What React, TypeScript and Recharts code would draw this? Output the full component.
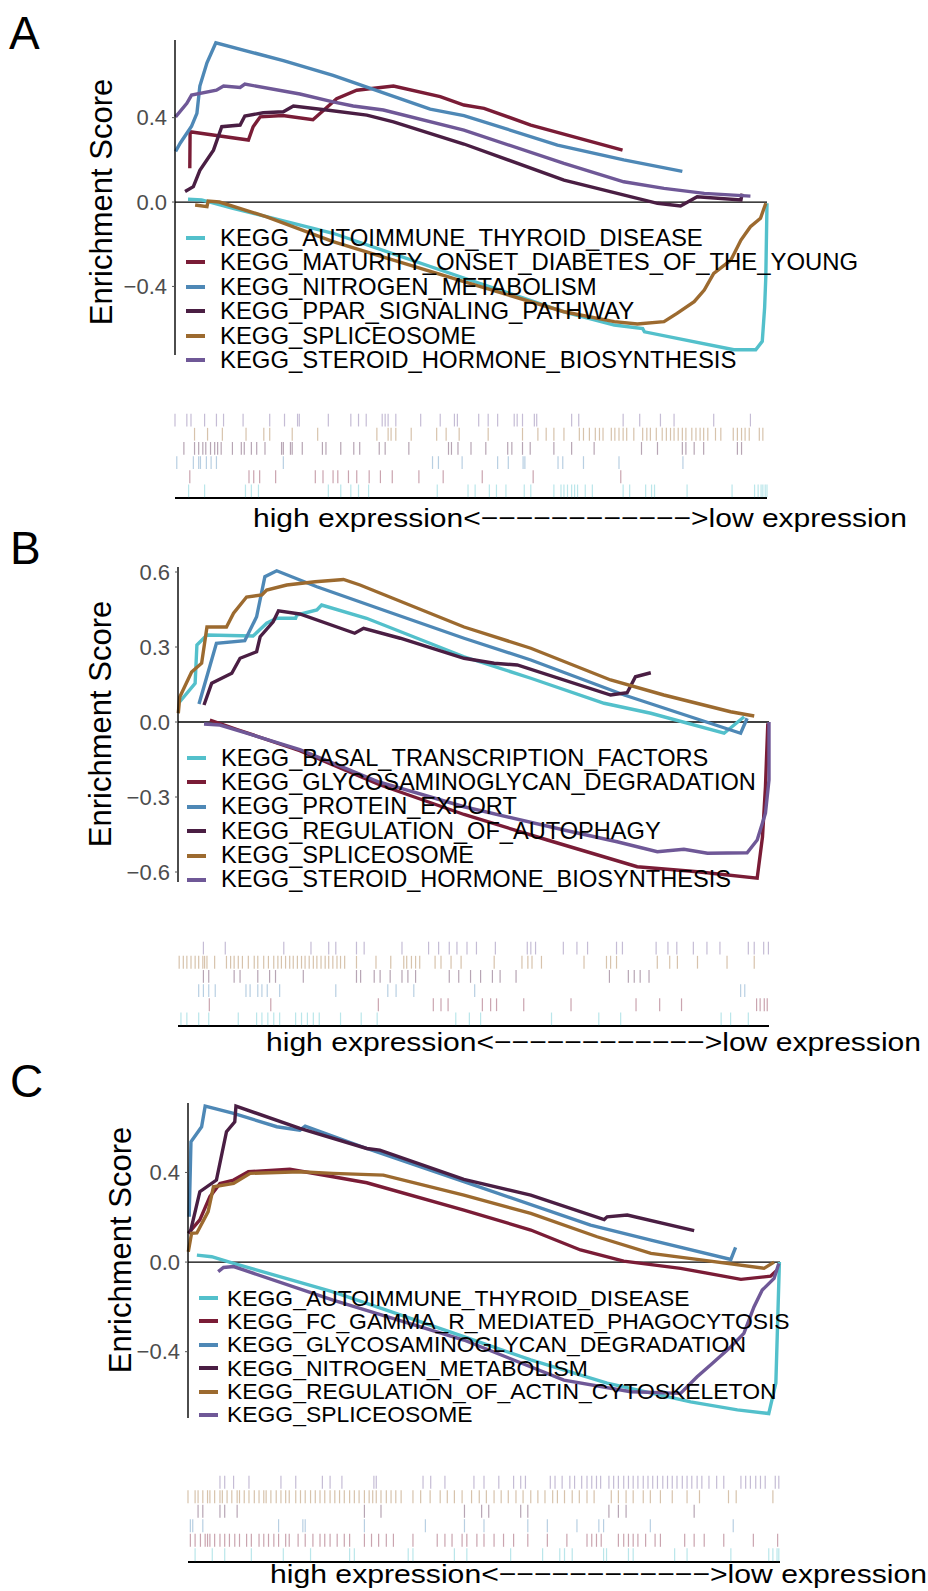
import React from "react";
import { LineChart, Line, XAxis, YAxis, ReferenceLine, ScatterChart, Scatter } from "recharts";

const FONT = '"Liberation Sans", Arial, Helvetica, sans-serif';
const PAGE_W = 928;

const CYAN = "#53C0CB";
const RED = "#7A1C36";
const BLUE = "#4E88B6";
const PLUM = "#4A1E43";
const BROWN = "#9C6A2F";
const PURPLE = "#6F5897";
const COLORS = [CYAN, RED, BLUE, PLUM, BROWN, PURPLE];

type Pt = [number, number];

// x = position in the ranked gene list (0-100), y = running enrichment score

// ---------- panel A ----------
const A_NAMES = [
  "KEGG_AUTOIMMUNE_THYROID_DISEASE",
  "KEGG_MATURITY_ONSET_DIABETES_OF_THE_YOUNG",
  "KEGG_NITROGEN_METABOLISM",
  "KEGG_PPAR_SIGNALING_PATHWAY",
  "KEGG_SPLICEOSOME",
  "KEGG_STEROID_HORMONE_BIOSYNTHESIS",
];
const A_ES_AUTOIMMUNE: Pt[] = [[2.2, 0.013], [4.5, 0.01], [9.8, -0.03], [26.7, -0.148], [48.8, -0.36], [65.7, -0.52], [74.2, -0.583], [79.0, -0.6], [79.3, -0.615], [94.4, -0.7], [98.1, -0.7], [99.2, -0.66], [99.6, -0.5], [99.8, -0.354], [100, -0.006]];
const A_ES_MATURITY: Pt[] = [[2.5, 0.16], [2.55, 0.333], [12.4, 0.294], [13.2, 0.357], [14.4, 0.404], [18.2, 0.41], [23.3, 0.39], [27.3, 0.49], [30.7, 0.53], [36.9, 0.55], [44.8, 0.5], [48.8, 0.46], [52.2, 0.444], [60.1, 0.365], [75.6, 0.246]];
const A_ES_NITROGEN: Pt[] = [[0.1, 0.24], [0.9, 0.28], [2.8, 0.36], [3.7, 0.42], [4.2, 0.55], [5.4, 0.66], [6.9, 0.755], [18.3, 0.67], [26.7, 0.6], [43.1, 0.44], [48.8, 0.41], [64.6, 0.27], [75.8, 0.2], [85.7, 0.145]];
const A_ES_PPAR: Pt[] = [[1.7, 0.05], [3.1, 0.073], [4.2, 0.15], [6.5, 0.246], [7.9, 0.357], [11.0, 0.365], [11.8, 0.408], [14.9, 0.423], [18.3, 0.428], [20.0, 0.455], [25.6, 0.436], [32.4, 0.412], [36.9, 0.38], [48.8, 0.275], [65.7, 0.104], [81.5, -0.006], [85.4, -0.019], [88.2, 0.025], [95.6, 0.01], [95.8, 0.04]];
const A_ES_SPLICEOSOME: Pt[] = [[3.4, -0.014], [5.4, -0.022], [5.6, 0.005], [7.5, 0.0], [15.5, -0.07], [26.7, -0.188], [48.8, -0.377], [65.7, -0.52], [74.2, -0.567], [78.1, -0.578], [82.6, -0.567], [84.8, -0.528], [87.7, -0.472], [89.4, -0.417], [91.0, -0.338], [93.9, -0.275], [95.6, -0.18], [97.2, -0.117], [98.9, -0.077], [99.8, -0.006]];
const A_ES_STEROID: Pt[] = [[0.1, 0.404], [2.0, 0.468], [2.8, 0.507], [7.0, 0.53], [8.2, 0.55], [11.0, 0.543], [11.8, 0.559], [21.1, 0.512], [26.7, 0.475], [30.1, 0.455], [35.2, 0.436], [48.8, 0.341], [65.7, 0.183], [75.8, 0.096], [82.6, 0.065], [89.4, 0.041], [97.2, 0.028]];

const A_HITS_AUTOIMMUNE = [2.3, 5, 11.9, 12.9, 14.1, 25.9, 28, 29.7, 31, 32.7, 44.3, 49.5, 50.7, 53.1, 54.3, 55.9, 59, 60.1, 64, 65.2, 65.7, 66.3, 67, 67.5, 68, 69.3, 70.5, 75.7, 76.8, 79.5, 80.5, 81, 86.5, 94.1, 97.9, 98.5, 99, 99.3, 99.7, 100];
const A_HITS_MATURITY = [2.5, 12.5, 13.3, 14.3, 17, 23.7, 25, 26.7, 27.5, 29.3, 30.7, 32.8, 34.7, 36.7, 41.2, 45.3, 51.9, 60.5, 75.3];
const A_HITS_NITROGEN = [0.3, 3.1, 4, 4.3, 5.3, 6.1, 7, 18.3, 43.5, 44.5, 48.5, 54.5, 56.3, 58.8, 59.1, 64.7, 65.5, 69, 75, 85.8];
const A_HITS_PPAR = [1.5, 3.3, 4, 4.7, 5.2, 6, 6.7, 7.2, 7.8, 9.7, 11.2, 11.7, 12.9, 13.8, 15.2, 18, 18.3, 19.5, 19.8, 21.5, 24.9, 25.5, 28, 30.2, 31.2, 34.5, 35.5, 39.5, 46.2, 46.7, 47.8, 50, 52.5, 56.2, 56.9, 58.7, 60, 64, 67, 70.8, 78.8, 81.5, 85.7, 86.3, 87.7, 89.3, 95, 95.7];
const A_HITS_SPLICEOSOME = [3.3, 5.5, 8, 12, 15, 16, 19.8, 24.1, 34.1, 36, 36.5, 37.3, 39.9, 44.2, 45.8, 48, 52.9, 58.7, 61.3, 62.7, 64, 65.7, 68.3, 69, 70, 71, 71.7, 72.3, 73.7, 74.3, 75, 75.7, 76.3, 77.5, 79, 79.7, 80.3, 81.3, 82.3, 83, 83.7, 84.3, 85, 85.7, 86.3, 87.3, 88, 88.7, 89.3, 90, 91.3, 92.2, 94.3, 95, 95.7, 96.3, 97, 98.7, 99.3];
const A_HITS_STEROID = [0, 2, 2.7, 5, 7, 8.2, 11.5, 16, 18.5, 20.7, 21, 25.9, 29.7, 31, 32.3, 35, 35.5, 36, 37.3, 41.5, 44.8, 47.2, 47.7, 51.3, 52.9, 54.5, 57.3, 57.8, 58.7, 60.7, 61.1, 67, 68.2, 75.7, 78.5, 82, 84.3, 91, 97.2];

// ---------- panel B ----------
const B_NAMES = [
  "KEGG_BASAL_TRANSCRIPTION_FACTORS",
  "KEGG_GLYCOSAMINOGLYCAN_DEGRADATION",
  "KEGG_PROTEIN_EXPORT",
  "KEGG_REGULATION_OF_AUTOPHAGY",
  "KEGG_SPLICEOSOME",
  "KEGG_STEROID_HORMONE_BIOSYNTHESIS",
];
const B_ES_BASAL: Pt[] = [[0.3, 0.081], [2.9, 0.155], [3.2, 0.308], [4.9, 0.348], [12.7, 0.344], [15.0, 0.395], [16.7, 0.415], [19.9, 0.415], [20.1, 0.428], [23.5, 0.448], [24.3, 0.468], [31.9, 0.415], [48.4, 0.261], [59.7, 0.175], [72.1, 0.075], [80.0, 0.035], [92.4, -0.045], [95.8, 0.021]];
const B_ES_GLYCOSAMINOGLYCAN: Pt[] = [[5.4, 0.008], [10, -0.03], [20.6, -0.115], [34, -0.25], [48.4, -0.37], [62.5, -0.472], [77.7, -0.579], [87.9, -0.599], [98.0, -0.625], [98.9, -0.459], [99.4, -0.259], [99.8, -0.005]];
const B_ES_PROTEIN: Pt[] = [[3.55, 0.072], [6.5, 0.315], [11.3, 0.325], [13.3, 0.421], [14.7, 0.581], [16.7, 0.605], [23.5, 0.541], [34.7, 0.448], [48.4, 0.335], [59.7, 0.248], [75.5, 0.108], [95.2, -0.045], [96.3, 0.015]];
const B_ES_AUTOPHAGY: Pt[] = [[4.4, 0.068], [5.7, 0.155], [9.1, 0.195], [10.5, 0.255], [13.3, 0.281], [13.9, 0.341], [16.1, 0.401], [17.0, 0.445], [20.6, 0.432], [29.9, 0.355], [31.4, 0.375], [37.6, 0.335], [48.4, 0.255], [53.5, 0.235], [57.4, 0.228], [73.2, 0.108], [76.0, 0.117], [77.4, 0.181], [80.0, 0.197]];
const B_ES_SPLICEOSOME: Pt[] = [[0.05, 0.035], [0.3, 0.1], [2.3, 0.2], [4.0, 0.235], [4.9, 0.38], [8.2, 0.38], [9.4, 0.435], [11.6, 0.5], [14.2, 0.508], [15.0, 0.528], [18.4, 0.548], [23.2, 0.561], [28.0, 0.57], [30.8, 0.548], [48.4, 0.38], [59.7, 0.295], [73.2, 0.168], [82.2, 0.108], [93.5, 0.041], [97.5, 0.024]];
const B_ES_STEROID: Pt[] = [[4.4, -0.008], [7.1, -0.012], [20.6, -0.11], [34, -0.24], [48.4, -0.339], [65.3, -0.432], [74.3, -0.479], [81.1, -0.519], [85.6, -0.509], [89.6, -0.525], [96.3, -0.523], [98.0, -0.472], [99.4, -0.365], [100, -0.232], [100, 0]];

const B_HITS_BASAL = [0.5, 1.5, 3.5, 5.2, 10.2, 13.3, 14.2, 15.2, 16.2, 17.2, 19.9, 20.9, 21.9, 22.9, 23.9, 27.5, 31, 33.7, 47, 49.3, 51.2, 63.2, 71.2, 74.9, 91.9, 93.5, 96.5];
const B_HITS_GLYCOSAMINOGLYCAN = [5.3, 15.7, 33.9, 43.2, 44.5, 45.7, 51.5, 52.9, 53.9, 58.5, 66.5, 77.5, 81.5, 85.2, 97.9, 98.5, 99.2, 99.7];
const B_HITS_PROTEIN = [3.5, 4.3, 5.2, 6.3, 11.5, 12.2, 13.5, 14.2, 15.1, 17.2, 26.7, 35.5, 36.9, 39.9, 50.2, 95.2, 95.9];
const B_HITS_AUTOPHAGY = [4.3, 5.2, 9.5, 10.5, 13.5, 15.5, 16.5, 21.2, 30.2, 30.9, 33.2, 34.2, 35.9, 37.9, 38.9, 40.2, 45.9, 47.5, 49.5, 51.2, 53.2, 54.5, 57.2, 73, 76.2, 77.2, 78.2, 79.7];
const B_HITS_SPLICEOSOME = [0.2, 0.9, 1.5, 2.2, 2.9, 3.5, 4.2, 4.5, 4.9, 6.2, 8.2, 8.9, 9.5, 10.2, 10.9, 11.9, 12.9, 13.5, 14.5, 15.3, 16.2, 16.9, 17.5, 18.2, 18.9, 19.5, 20.2, 20.9, 21.5, 22.2, 22.9, 23.5, 24.2, 24.9, 25.5, 26.2, 26.9, 27.5, 28.2, 30.2, 33.5, 36, 38.2, 38.7, 39.5, 40.2, 40.9, 43.5, 44.5, 46.2, 47.9, 53.5, 58.2, 59.2, 59.9, 61.5, 68.7, 72.5, 73.2, 74.2, 81.1, 83.2, 84.5, 87.9, 92.9, 97.5];
const B_HITS_STEROID = [4.3, 8, 17.9, 22.5, 25.5, 26.7, 30.2, 31.5, 37.9, 42.4, 44.1, 45.9, 47.2, 48.9, 50.5, 53.7, 59.1, 59.7, 60.5, 65.2, 67.5, 69.3, 74.2, 75.2, 80.9, 82.9, 84.4, 87.2, 89.5, 91.7, 96.5, 97.5, 99.1, 99.9];

// ---------- panel C ----------
const C_NAMES = [
  "KEGG_AUTOIMMUNE_THYROID_DISEASE",
  "KEGG_FC_GAMMA_R_MEDIATED_PHAGOCYTOSIS",
  "KEGG_GLYCOSAMINOGLYCAN_DEGRADATION",
  "KEGG_NITROGEN_METABOLISM",
  "KEGG_REGULATION_OF_ACTIN_CYTOSKELETON",
  "KEGG_SPLICEOSOME",
];
const C_ES_AUTOIMMUNE: Pt[] = [[1.5, 0.031], [4.0, 0.024], [7.7, -0.006], [24.5, -0.133], [46.6, -0.333], [57.9, -0.437], [70.8, -0.54], [84.9, -0.624], [92.8, -0.66], [98.1, -0.676], [99.3, -0.54], [99.9, 0]];
const C_ES_FC_GAMMA: Pt[] = [[0.05, 0.128], [2.0, 0.188], [3.7, 0.292], [5.4, 0.351], [7.7, 0.366], [10.2, 0.403], [17.2, 0.414], [24.5, 0.381], [30.2, 0.354], [46.6, 0.232], [57.9, 0.143], [66.3, 0.054], [73.6, 0.004], [83.2, -0.028], [93.4, -0.077], [98.4, -0.063], [99.5, -0.036]];
const C_ES_GLYCOSAMINOGLYCAN: Pt[] = [[0.2, 0.202], [0.5, 0.537], [2.3, 0.604], [2.9, 0.696], [7.7, 0.664], [15.0, 0.604], [18.9, 0.589], [19.8, 0.607], [30.2, 0.507], [46.6, 0.359], [68.0, 0.165], [78.2, 0.098], [91.7, 0.012], [92.5, 0.066]];
const C_ES_NITROGEN: Pt[] = [[0.34, 0.128], [2.0, 0.314], [4.8, 0.366], [6.5, 0.582], [7.9, 0.626], [8.1, 0.696], [18.9, 0.597], [30.2, 0.507], [32.4, 0.5], [46.6, 0.369], [57.9, 0.299], [70.3, 0.19], [70.8, 0.202], [74.2, 0.21], [85.5, 0.14]];
const C_ES_ACTIN: Pt[] = [[0.05, 0.046], [0.6, 0.128], [1.5, 0.13], [3.4, 0.225], [4.3, 0.336], [7.7, 0.351], [10.5, 0.396], [18.9, 0.403], [24.5, 0.396], [33.0, 0.388], [46.6, 0.299], [57.9, 0.217], [69.1, 0.113], [78.2, 0.039], [86.0, 0.012], [97.3, -0.028], [99.0, 0]];
const C_ES_SPLICEOSOME: Pt[] = [[5.1, -0.043], [6.0, -0.024], [7.7, -0.02], [24.5, -0.17], [46.6, -0.348], [63.5, -0.527], [74.8, -0.579], [83.2, -0.586], [86.0, -0.512], [88.6, -0.452], [91.7, -0.378], [93.9, -0.318], [95.6, -0.2], [97.0, -0.125], [99.0, -0.073], [99.8, -0.006]];

const C_HITS_AUTOIMMUNE = [1.2, 4.1, 6.2, 10.7, 16.1, 20.7, 27.3, 28.1, 37.2, 38, 45, 47.1, 54.5, 59.9, 62.8, 63.6, 64.9, 70.2, 70.7, 74.4, 75.2, 82.2, 84.3, 91.7, 98.1, 98.8, 99.5, 99.8];
const C_HITS_FC_GAMMA = [0.4, 1.2, 2.1, 2.9, 3.3, 3.7, 4.5, 5.4, 6.2, 7, 7.9, 8.7, 9.9, 10.7, 12, 12.8, 13.6, 14.5, 15.3, 16.5, 17.1, 18.6, 19.8, 21.1, 22.3, 23.1, 24, 25.2, 26.4, 27.3, 29.8, 31, 32.2, 33.5, 34.7, 38, 42.1, 43.4, 44.6, 46.3, 47.1, 48.8, 50, 51.7, 53.3, 55, 57.4, 60.7, 64, 67.4, 68.2, 69, 69.8, 72.7, 73.6, 74.4, 75.2, 76, 77.3, 78.9, 79.8, 83.9, 85.5, 87.2, 90.5, 95.5, 99.6];
const C_HITS_GLYCOSAMINOGLYCAN = [0.4, 0.8, 2.5, 15.3, 19.4, 19.8, 29.8, 40.1, 46.7, 50, 57.4, 60.7, 65.7, 69.4, 70.2, 78.1, 92.1];
const C_HITS_NITROGEN = [1.7, 2.5, 5.4, 6.2, 8.3, 29.8, 32.6, 46.7, 49.6, 50.8, 56.2, 57.4, 71.1, 72.7, 74, 85.5];
const C_HITS_ACTIN = [0, 1.2, 1.7, 2.5, 3.3, 3.7, 4.5, 5.4, 5.8, 6.6, 7.4, 8.3, 8.7, 9.5, 10.3, 11.2, 12, 12.8, 13.2, 14, 14.9, 15.7, 16.5, 17.1, 18.2, 19, 19.8, 20.7, 21.5, 22.3, 23.1, 24, 24.8, 25.6, 26.4, 27.3, 28.1, 28.9, 29.8, 30.6, 31.2, 31.8, 32.6, 33.5, 34.3, 35.1, 36, 38, 39.3, 40.9, 42.6, 43.8, 45, 46.3, 47.9, 49.2, 50.4, 51.7, 52.9, 54.1, 55.4, 56.6, 57.9, 59.1, 60.3, 61.6, 62.4, 63.6, 64.9, 66.1, 67.4, 68.6, 71.5, 72.7, 74, 75.2, 76.9, 78.1, 79.8, 81.8, 84.3, 86.4, 91.3, 92.6, 98.8];
const C_HITS_SPLICEOSOME = [5.4, 6.2, 7.7, 10.3, 15.7, 18.2, 22.7, 24, 26, 31.4, 31.8, 39.7, 41, 43.4, 48.3, 50, 52.5, 55, 56.2, 57, 61.2, 62, 63.2, 64.5, 65.3, 66.5, 67.4, 68.2, 69, 69.7, 71.1, 71.9, 72.7, 73.6, 74.4, 75.2, 76, 76.9, 77.7, 78.5, 79.3, 80.2, 81, 81.8, 82.6, 83.5, 84.3, 85.1, 86, 86.8, 88, 89.3, 90.5, 93.4, 94.2, 95, 95.9, 96.7, 97.5, 99.2, 99.8];

const X_LABEL = "high expression<" + "\u2212".repeat(12) + ">low expression";

interface Geom {
  letter: string;
  letterX: number;
  letterTop: number;
  top: number;
  plotTop: number;
  plotBottom: number;
  plotLeft: number;
  plotRight: number;
  yDomain: [number, number];
  yTicks: number[];
  yLabelX: number;
  yLabelY: number;
  legendX: number;
  legendY: number;
  legendStep: number;
  legendFont: number;
  legendGap: number;
  rugTop: number;
  rugRowsTop: number;
  rugBaseline: number;
  rugH: number;
  xLabelX: number;
  xLabelY: number;
  xLabelW: number;
}

const GEOM_A: Geom = {
  letter: "A", letterX: 9, letterTop: 10, top: 0,
  plotTop: 40, plotBottom: 355, plotLeft: 175, plotRight: 767,
  yDomain: [-0.725, 0.768], yTicks: [-0.4, 0, 0.4], yLabelX: 101, yLabelY: 202,
  legendX: 186, legendY: 238, legendStep: 24.4, legendFont: 23.9, legendGap: 15,
  rugTop: 400, rugRowsTop: 413, rugBaseline: 498, rugH: 150,
  xLabelX: 253, xLabelY: 527, xLabelW: 654,
};
const GEOM_B: Geom = {
  letter: "B", letterX: 10, letterTop: 525, top: 520,
  plotTop: 567, plotBottom: 882, plotLeft: 178, plotRight: 769,
  yDomain: [-0.64, 0.62], yTicks: [-0.6, -0.3, 0, 0.3, 0.6], yLabelX: 100, yLabelY: 724,
  legendX: 187, legendY: 758, legendStep: 24.4, legendFont: 23.6, legendGap: 15,
  rugTop: 928, rugRowsTop: 941, rugBaseline: 1026, rugH: 150,
  xLabelX: 266, xLabelY: 1051, xLabelW: 655,
};
const GEOM_C: Geom = {
  letter: "C", letterX: 10, letterTop: 1058, top: 1060,
  plotTop: 1103, plotBottom: 1418, plotLeft: 188, plotRight: 780,
  yDomain: [-0.696, 0.71], yTicks: [-0.4, 0, 0.4], yLabelX: 120, yLabelY: 1250,
  legendX: 199, legendY: 1298, legendStep: 23.4, legendFont: 22.9, legendGap: 9,
  rugTop: 1462, rugRowsTop: 1475, rugBaseline: 1562, rugH: 129,
  xLabelX: 270, xLabelY: 1583, xLabelW: 657,
};

const fmtTick = (v: number) => (v === 0 ? "0.0" : (v < 0 ? "\u2212" : "") + Math.abs(v).toFixed(1));

interface PanelProps {
  g: Geom;
  names: string[];
  curves: Pt[][];
  hits: number[][];
}

function GseaPanel({ g, names, curves, hits }: PanelProps) {
  const chartH = 380;
  const yAxisW = 60;
  const rowH = (g.rugBaseline - g.rugRowsTop) / names.length;
  const half = rowH / 2 - 0.7;

  return (
    <>
      <div style={{ position: "absolute", left: g.letterX, top: g.letterTop, fontSize: 46, lineHeight: 1, fontFamily: FONT }}>
        {g.letter}
      </div>

      <div style={{ position: "absolute", left: 0, top: g.top }}>
        <LineChart
          width={PAGE_W}
          height={chartH}
          margin={{
            top: g.plotTop - g.top,
            bottom: g.top + chartH - g.plotBottom,
            left: g.plotLeft - yAxisW,
            right: PAGE_W - g.plotRight,
          }}
        >
          <XAxis type="number" dataKey="x" domain={[0, 100]} hide />
          <YAxis
            type="number"
            domain={g.yDomain}
            ticks={g.yTicks}
            width={yAxisW}
            tickFormatter={fmtTick}
            axisLine={{ stroke: "#000", strokeWidth: 1.4 }}
            tickLine={{ stroke: "#555" }}
            tickSize={3}
            tickMargin={5}
            tick={{ fontSize: 22, fill: "#4D4D4D", fontFamily: FONT }}
            label={() => (
              <text
                transform={`translate(${g.yLabelX},${g.yLabelY - g.top}) rotate(-90)`}
                textAnchor="middle"
                dominantBaseline="central"
                fontSize={31}
                fontFamily={FONT}
                fill="#000"
              >
                Enrichment Score
              </text>
            )}
          />
          <ReferenceLine y={0} stroke="#000" strokeWidth={1.3} />
          {curves.map((c, i) => (
            <Line
              key={names[i]}
              data={c.map(([x, y]) => ({ x, y }))}
              dataKey="y"
              type="linear"
              stroke={COLORS[i]}
              strokeWidth={3.4}
              dot={false}
              activeDot={false}
              isAnimationActive={false}
            />
          ))}
        </LineChart>
      </div>

      {/* legend */}
      <div
        style={{
          position: "absolute",
          left: g.legendX,
          top: g.legendY - g.legendStep / 2,
          fontFamily: FONT,
          fontSize: g.legendFont,
          color: "#000",
        }}
      >
        {names.map((n, i) => (
          <div key={n} style={{ display: "flex", alignItems: "center", height: g.legendStep, whiteSpace: "nowrap" }}>
            <span style={{ width: 19, height: 4, background: COLORS[i], marginRight: g.legendGap, flexShrink: 0 }} />
            <span>{n}</span>
          </div>
        ))}
      </div>

      {/* hit positions */}
      <div style={{ position: "absolute", left: 0, top: g.rugTop }}>
        <ScatterChart
          width={PAGE_W}
          height={g.rugH}
          margin={{
            top: g.rugRowsTop - g.rugTop,
            bottom: g.rugTop + g.rugH - g.rugBaseline - 30,
            left: g.plotLeft,
            right: PAGE_W - g.plotRight,
          }}
        >
          <XAxis
            type="number"
            dataKey="x"
            domain={[0, 100]}
            height={30}
            tick={false}
            tickLine={false}
            axisLine={{ stroke: "#000", strokeWidth: 2 }}
            label={() => (
              <text
                x={g.xLabelX}
                y={g.xLabelY - g.rugTop}
                fontSize={26}
                fontFamily={FONT}
                fill="#000"
                textLength={g.xLabelW}
                lengthAdjust="spacingAndGlyphs"
              >
                {X_LABEL}
              </text>
            )}
          />
          <YAxis type="number" dataKey="y" domain={[0, names.length]} hide />
          {hits.map((h, i) => (
            <Scatter
              key={names[i]}
              data={h.map((x) => ({ x, y: i + 0.5 }))}
              isAnimationActive={false}
              shape={(p: any) => (
                <line
                  x1={p.cx}
                  x2={p.cx}
                  y1={p.cy - half}
                  y2={p.cy + half}
                  stroke={COLORS[i]}
                  strokeOpacity={0.4}
                  strokeWidth={1.2}
                />
              )}
            />
          ))}
        </ScatterChart>
      </div>
    </>
  );
}

export default function App() {
  return (
    <div style={{ position: "absolute", left: 0, top: 0, width: PAGE_W, height: 1591, background: "#fff", overflow: "hidden" }}>
      <GseaPanel
        g={GEOM_A}
        names={A_NAMES}
        curves={[A_ES_AUTOIMMUNE, A_ES_MATURITY, A_ES_NITROGEN, A_ES_PPAR, A_ES_SPLICEOSOME, A_ES_STEROID]}
        hits={[A_HITS_AUTOIMMUNE, A_HITS_MATURITY, A_HITS_NITROGEN, A_HITS_PPAR, A_HITS_SPLICEOSOME, A_HITS_STEROID]}
      />
      <GseaPanel
        g={GEOM_B}
        names={B_NAMES}
        curves={[B_ES_BASAL, B_ES_GLYCOSAMINOGLYCAN, B_ES_PROTEIN, B_ES_AUTOPHAGY, B_ES_SPLICEOSOME, B_ES_STEROID]}
        hits={[B_HITS_BASAL, B_HITS_GLYCOSAMINOGLYCAN, B_HITS_PROTEIN, B_HITS_AUTOPHAGY, B_HITS_SPLICEOSOME, B_HITS_STEROID]}
      />
      <GseaPanel
        g={GEOM_C}
        names={C_NAMES}
        curves={[C_ES_AUTOIMMUNE, C_ES_FC_GAMMA, C_ES_GLYCOSAMINOGLYCAN, C_ES_NITROGEN, C_ES_ACTIN, C_ES_SPLICEOSOME]}
        hits={[C_HITS_AUTOIMMUNE, C_HITS_FC_GAMMA, C_HITS_GLYCOSAMINOGLYCAN, C_HITS_NITROGEN, C_HITS_ACTIN, C_HITS_SPLICEOSOME]}
      />
    </div>
  );
}
